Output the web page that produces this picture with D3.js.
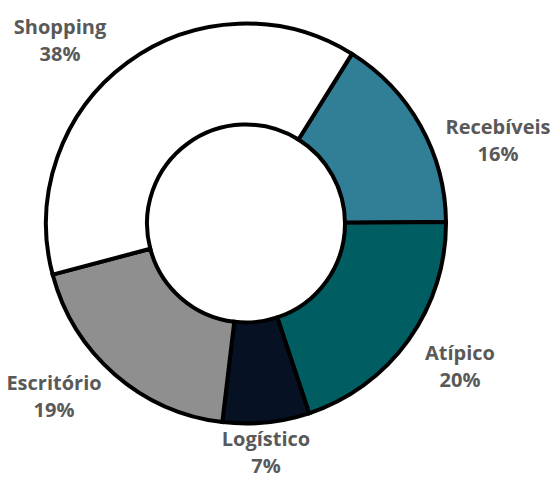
<!DOCTYPE html>
<html>
<head>
<meta charset="utf-8">
<script src="https://cdn.jsdelivr.net/npm/d3@7"></script>
<style>
  html, body { margin: 0; padding: 0; background: #fff; }
  svg { display: block; }
  .lbl { font-family: "Open Sans", sans-serif; font-weight: 700; fill: #595959; }
</style>
</head>
<body>
<svg id="chart"></svg>
<script>
var width = 553
var height = 478

// dados
var categories = ["Recebíveis", "Atípico", "Logístico", "Escritório", "Shopping"]
var values = [16, 20, 7, 19, 38]
var percentLabels = ["16%", "20%", "7%", "19%", "38%"]
var colors = ["#307f96", "#005e63", "#061123", "#8f8f8f", "#ffffff"]
// posição do rótulo (centro x, linha de base da 1a linha)
var labelPos = [[498, 134], [460, 360], [266, 446], [54, 390], [60, 34]]

var cx = 246, cy = 223.5
var outerR = 200, innerR = 99
var startDeg = 32

var svg = d3.select("#chart").attr("width", width).attr("height", height)
var g = svg.append("g").attr("transform", "translate(" + cx + "," + cy + ")")

var pie = d3.pie()
    .sort(null)
    .value(function (d) { return d })
    .startAngle(startDeg * Math.PI / 180)
    .endAngle((startDeg + 360) * Math.PI / 180)

var arc = d3.arc().innerRadius(innerR).outerRadius(outerR)

var color = d3.scaleOrdinal().domain(categories).range(colors)

g.selectAll("path")
    .data(pie(values))
    .enter()
    .append("path")
    .attr("d", arc)
    .attr("fill", function (d, i) { return color(categories[i]) })
    .attr("stroke", "#000")
    .attr("stroke-width", 4)
    .attr("stroke-linejoin", "miter")

// rótulos
var lbl = svg.selectAll("text.lbl")
    .data(categories)
    .enter()
    .append("text")
    .attr("class", "lbl")
    .attr("text-anchor", "middle")
    .attr("font-size", 20)
    .attr("x", function (d, i) { return labelPos[i][0] })
    .attr("y", function (d, i) { return labelPos[i][1] })

lbl.append("tspan").text(function (d) { return d })
lbl.append("tspan")
    .attr("x", function (d, i) { return labelPos[i][0] })
    .attr("dy", 27)
    .text(function (d, i) { return percentLabels[i] })
</script>
</body>
</html>
